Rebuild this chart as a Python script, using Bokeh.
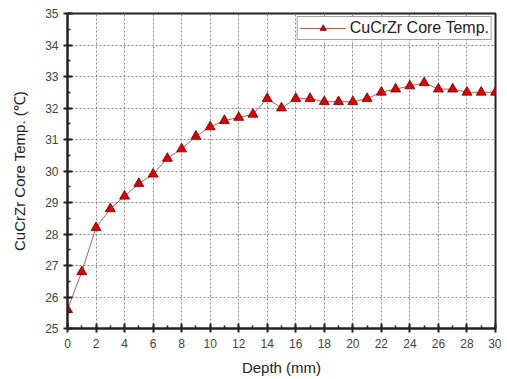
from bokeh.plotting import figure
from bokeh.models import FixedTicker, Range1d, Legend, LegendItem
from bokeh.embed import file_html
from bokeh.resources import INLINE

depth = list(range(0, 31))
temp = [25.6, 26.8, 28.2, 28.8, 29.2, 29.6, 29.9, 30.4, 30.7, 31.1,
        31.4, 31.6, 31.7, 31.8, 32.3, 32.0, 32.3, 32.3, 32.2, 32.2,
        32.2, 32.3, 32.5, 32.6, 32.7, 32.8, 32.6, 32.6, 32.5, 32.5, 32.5]
x_ticks = list(range(0, 31, 2))
y_ticks = list(range(25, 36))
series_name = "CuCrZr Core Temp."
x_label = "Depth (mm)"
y_label = "CuCrZr Core Temp. (\u2103)"

p = figure(frame_width=428, frame_height=315, output_backend="svg", toolbar_location=None,
           x_range=Range1d(0, 30), y_range=Range1d(25, 35),
           min_border_left=67, min_border_right=6, min_border_top=13, min_border_bottom=48)

p.background_fill_color = "white"
p.outline_line_color = "#222222"
p.outline_line_width = 2

line = p.line(depth, temp, line_color="#b06060", line_width=1)
marks = p.scatter(depth, temp, marker="triangle", size=10,
                  fill_color="#e00000", line_color="#700000", line_width=0.8)

for ax in (p.xaxis[0], p.yaxis[0]):
    ax.axis_line_width = 2
    ax.axis_line_color = "#222222"
    ax.major_tick_line_color = "#222222"
    ax.major_tick_line_width = 2
    ax.minor_tick_line_color = "#222222"
    ax.minor_tick_line_width = 1.5
    ax.major_tick_in = 5
    ax.major_tick_out = 4
    ax.minor_tick_in = 3
    ax.minor_tick_out = 0
    ax.major_label_text_font = "Liberation Sans"
    ax.major_label_text_font_size = "12px"
    ax.major_label_text_color = "#444444"
    ax.axis_label_text_font = "Liberation Sans"
    ax.axis_label_text_font_size = "15px"
    ax.axis_label_text_font_style = "normal"
    ax.axis_label_text_color = "#222222"

p.xaxis[0].ticker = FixedTicker(ticks=x_ticks, minor_ticks=list(range(0, 31)))
p.yaxis[0].ticker = FixedTicker(ticks=y_ticks, minor_ticks=[v / 2 for v in range(50, 71)])
p.xaxis[0].axis_label = x_label
p.yaxis[0].axis_label = y_label
p.xaxis[0].major_label_standoff = 6
p.xaxis[0].axis_label_standoff = 8
p.yaxis[0].major_label_standoff = 5
p.yaxis[0].axis_label_standoff = 14

for g in (p.xgrid[0], p.ygrid[0]):
    g.grid_line_color = "#888888"
    g.grid_line_dash = "2 2"
    g.grid_line_width = 1

legend = Legend(items=[LegendItem(label=series_name, renderers=[line, marks])],
                location="top_right")
legend.label_text_font = "Liberation Sans"
legend.label_text_font_size = "16px"
legend.label_text_color = "#222222"
legend.border_line_color = "#444444"
legend.border_line_width = 1.5
legend.margin = 3
legend.padding = 2
legend.spacing = 0
legend.glyph_width = 46
legend.glyph_height = 16
legend.label_standoff = 4
legend.label_height = 16
p.add_layout(legend)

open("out.html", "w").write(file_html(p, INLINE))
